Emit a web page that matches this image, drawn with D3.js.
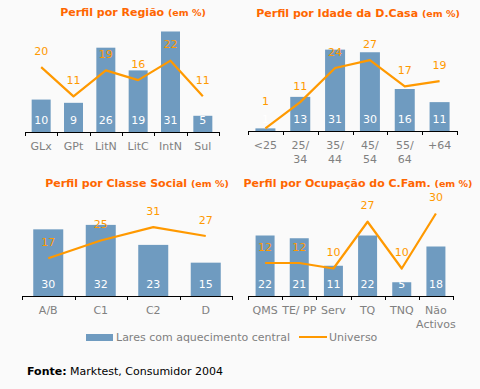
<!DOCTYPE html>
<html>
<head>
<meta charset="utf-8">
<script src="https://cdn.jsdelivr.net/npm/d3@7"></script>
<style>
  body { margin: 0; background: #fafafa; }
  svg { display: block; font-family: "DejaVu Sans", Verdana, sans-serif; }
</style>
</head>
<body>
<div class="d3chart"></div>
<script>
var width = 480,
    height = 389;

// Perfil por Regiao
var regiaoCats = ["GLx", "GPt", "LitN", "LitC", "IntN", "Sul"];
var regiaoLares = [10, 9, 26, 19, 31, 5];
var regiaoUniverso = [20, 11, 19, 16, 22, 11];

// Perfil por Idade da D.Casa
var idadeCats = ["<25", "25/\n34", "35/\n44", "45/\n54", "55/\n64", "+64"];
var idadeLares = [1, 13, 31, 30, 16, 11];
var idadeUniverso = [1, 11, 24, 27, 17, 19];

// Perfil por Classe Social
var classeCats = ["A/B", "C1", "C2", "D"];
var classeLares = [30, 32, 23, 15];
var classeUniverso = [17, 25, 31, 27];

// Perfil por Ocupacao do C.Fam.
var ocupCats = ["QMS", "TE/ PP", "Serv", "TQ", "TNQ", "Não\nActivos"];
var ocupLares = [22, 21, 11, 22, 5, 18];
var ocupUniverso = [12, 12, 10, 27, 10, 30];

var legendLabels = ["Lares com aquecimento central", "Universo"];

var barColor = "#6f9bc0",
    lineColor = "#ff9900",
    titleColor = "#ff6600",
    textGray = "#808080";

var panels = [
  {title: "Perfil por Região", cats: regiaoCats, bars: regiaoLares, line: regiaoUniverso,
   x0: 25, x1: 219, base: 132, yMax: 33, h: 107, tx: 133, ty: 16, barW: 19},
  {title: "Perfil por Idade da D.Casa", cats: idadeCats, bars: idadeLares, line: idadeUniverso,
   x0: 248, x1: 457, base: 131, yMax: 40, h: 105, tx: 358, ty: 17, barW: 20},
  {title: "Perfil por Classe Social", cats: classeCats, bars: classeLares, line: classeUniverso,
   x0: 22, x1: 232, base: 296, yMax: 45, h: 100, tx: 137, ty: 187, barW: 30},
  {title: "Perfil por Ocupação do C.Fam.", cats: ocupCats, bars: ocupLares, line: ocupUniverso,
   x0: 248, x1: 453, base: 296, yMax: 38, h: 104.5, tx: 358, ty: 187, barW: 19}
];

var svg = d3.select(".d3chart").append("svg")
    .attr("width", width)
    .attr("height", height);

svg.append("rect")
    .attr("width", width)
    .attr("height", height)
    .attr("fill", "#fafafa");

panels.forEach(function(p) {
  var g = svg.append("g");

  var x = d3.scaleBand()
      .domain(p.cats)
      .range([p.x0, p.x1]);
  var y = d3.scaleLinear()
      .domain([0, p.yMax])
      .range([p.base, p.base - p.h]);

  var title = g.append("text")
      .attr("x", p.tx)
      .attr("y", p.ty)
      .attr("text-anchor", "middle")
      .attr("fill", titleColor)
      .attr("font-weight", "bold");
  title.append("tspan").attr("font-size", "11px").text(p.title + " ");
  title.append("tspan").attr("font-size", "9.5px").text("(em %)");

  var cx = function(d, i) { return x(p.cats[i]) + x.bandwidth() / 2; };

  // bars
  g.selectAll(".bar")
    .data(p.bars)
    .enter().append("rect")
      .attr("class", "bar")
      .attr("x", function(d, i) { return cx(d, i) - p.barW / 2; })
      .attr("y", function(d) { return y(d); })
      .attr("width", p.barW)
      .attr("height", function(d) { return p.base - y(d); })
      .attr("fill", barColor);

  g.selectAll(".barlabel")
    .data(p.bars)
    .enter().append("text")
      .attr("class", "barlabel")
      .attr("x", cx)
      .attr("y", p.base - 8.5)
      .attr("text-anchor", "middle")
      .attr("font-size", "11px")
      .attr("fill", "#fff")
      .text(function(d) { return d; });

  // axis
  g.append("line")
      .attr("x1", p.x0).attr("x2", p.x1)
      .attr("y1", p.base + 0.5).attr("y2", p.base + 0.5)
      .attr("stroke", "#000");
  var edges = p.cats.map(function(c) { return x(c); }).concat([p.x1]);
  g.selectAll(".tick")
    .data(edges)
    .enter().append("line")
      .attr("x1", function(d) { return Math.round(d) + 0.5; })
      .attr("x2", function(d) { return Math.round(d) + 0.5; })
      .attr("y1", p.base)
      .attr("y2", p.base + 4)
      .attr("stroke", "#000");

  p.cats.forEach(function(c, i) {
    var t = g.append("text")
        .attr("text-anchor", "middle")
        .attr("font-size", "11px")
        .attr("fill", textGray);
    c.split("\n").forEach(function(part, k) {
      t.append("tspan")
        .attr("x", cx(c, i))
        .attr("y", p.base + 18 + k * 14)
        .text(part);
    });
  });

  // line
  var line = d3.line()
      .x(function(d, i) { return cx(d, i); })
      .y(function(d) { return y(d); });
  g.append("path")
      .datum(p.line)
      .attr("d", line)
      .attr("fill", "none")
      .attr("stroke", lineColor)
      .attr("stroke-width", 2.2)
      .attr("stroke-linejoin", "round");

  g.selectAll(".linelabel")
    .data(p.line)
    .enter().append("text")
      .attr("class", "linelabel")
      .attr("x", cx)
      .attr("y", function(d) {
        var b = y(d) - 12.5;
        var barLab = p.base - 8.5;
        if (b > barLab - 13) b = barLab - 18;
        return b;
      })
      .attr("text-anchor", "middle")
      .attr("font-size", "11px")
      .attr("fill", lineColor)
      .text(function(d) { return d; });
});

// legend
var legend = svg.append("g");
legend.append("rect")
    .attr("x", 86).attr("y", 334)
    .attr("width", 27).attr("height", 7)
    .attr("fill", barColor);
legend.append("text")
    .attr("x", 116).attr("y", 341)
    .attr("font-size", "11px")
    .attr("fill", textGray)
    .text(legendLabels[0]);
legend.append("line")
    .attr("x1", 299).attr("x2", 327)
    .attr("y1", 337).attr("y2", 337)
    .attr("stroke", lineColor)
    .attr("stroke-width", 2);
legend.append("text")
    .attr("x", 329).attr("y", 341)
    .attr("font-size", "11px")
    .attr("fill", textGray)
    .text(legendLabels[1]);

// source
var fonte = svg.append("text")
    .attr("x", 27).attr("y", 375)
    .attr("font-size", "11px")
    .attr("fill", "#000");
fonte.append("tspan").attr("font-weight", "bold").text("Fonte:");
fonte.append("tspan").text(" Marktest, Consumidor 2004");
</script>
</body>
</html>
